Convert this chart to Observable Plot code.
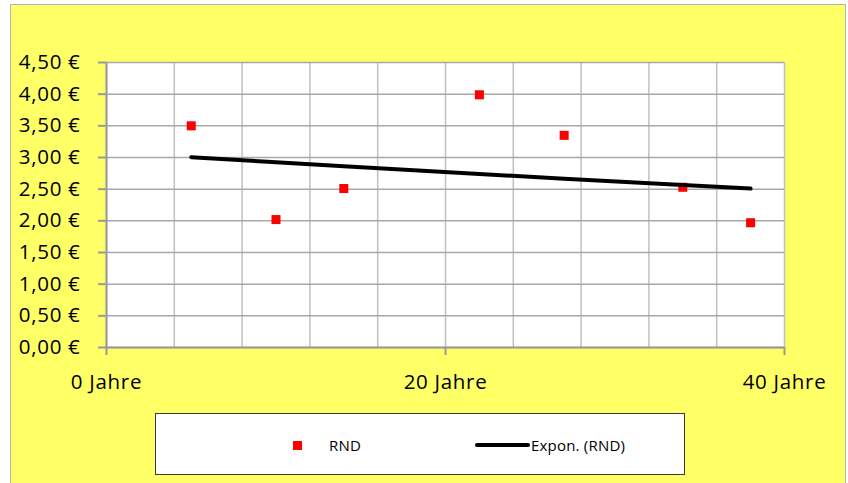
<!DOCTYPE html>
<html>
<head>
<meta charset="utf-8">
<script src="https://cdn.jsdelivr.net/npm/d3@7"></script>
<script src="https://cdn.jsdelivr.net/npm/@observablehq/plot@0.6"></script>
<style>
  html, body { margin: 0; padding: 0; background: #ffffff; }
  #wrap { position: relative; width: 848px; height: 483px; overflow: hidden; font-family: "Open Sans", sans-serif; }
  #bg { position: absolute; left: 10px; top: 4px; width: 834px; height: 490px; background: #ffff66;
        border: 1.5px solid #b4b4b4; }
  #chart { position: absolute; left: 0; top: 0; }
  #chart svg text { font-size: 20.5px; letter-spacing: 0.7px; }
  #legend { position: absolute; left: 155px; top: 413px; width: 530px; height: 62px; background: #ffffff;
            border: 1px solid #3a3a3a; box-sizing: border-box; color: #000; }
  .sq { position: absolute; left: 293px; top: 441px; width: 9px; height: 9px; background: #ff0000; }
  .ln { position: absolute; left: 475px; top: 443px; width: 55px; height: 4px; background: #000; border-radius: 2px; }
  .lt { position: absolute; font-family: "Open Sans", sans-serif; font-size: 15px; line-height: 18px; letter-spacing: 0.2px; }
</style>
</head>
<body>
<div id="wrap">
  <div id="bg"></div>
  <div id="chart"></div>
  <div id="legend"></div>
  <div class="sq"></div>
  <div class="lt" id="lab1" style="left:329px; top:436px;"></div>
  <div class="ln"></div>
  <div class="lt" id="lab2" style="left:531px; top:436px;"></div>
</div>
<script>
// ---- data ----
const years = [5, 10, 14, 22, 27, 34, 38];
const values = [3.5, 2.02, 2.51, 3.99, 3.35, 2.53, 1.97];
const seriesName = "RND";
const trendName = "Expon. (RND)";
const yTicks = [0, 0.5, 1, 1.5, 2, 2.5, 3, 3.5, 4, 4.5];
const xGridTicks = [0, 4, 8, 12, 16, 20, 24, 28, 32, 36, 40];
const xLabelTicks = [0, 20, 40];

document.getElementById("lab1").textContent = seriesName;
document.getElementById("lab2").textContent = trendName;

const points = years.map((x, i) => ({x, y: values[i]}));

// exponential trendline (least squares on ln y, as in the spreadsheet)
const n = years.length;
const mx = d3.mean(years);
const ml = d3.mean(values, v => Math.log(v));
let sxy = 0, sxx = 0;
for (let i = 0; i < n; i++) {
  sxy += (years[i] - mx) * (Math.log(values[i]) - ml);
  sxx += (years[i] - mx) ** 2;
}
const b = sxy / sxx;
const a = Math.exp(ml - b * mx);
const trend = years.map(x => ({x, y: a * Math.exp(b * x)}));

const fmt = d => d.toFixed(2).replace(".", ",") + " €";

const chart = Plot.plot({
  width: 848,
  height: 483,
  marginLeft: 106,
  marginRight: 64,
  marginTop: 62,
  marginBottom: 136,
  style: { background: "transparent", fontFamily: "Open Sans, sans-serif", color: "#000" },
  x: { domain: [0, 40] },
  y: { domain: [0, 4.5] },
  marks: [
    Plot.frame({ fill: "#ffffff", stroke: null }),
    Plot.ruleX(xGridTicks, { stroke: "#c0c0c0", strokeWidth: 1.5 }),
    Plot.ruleY(yTicks, { stroke: "#a8a8a8", strokeWidth: 1.5 }),
    Plot.ruleY([0], { stroke: "#999999", strokeWidth: 2 }),
    Plot.ruleX([0], { stroke: "#999999", strokeWidth: 2 }),
    Plot.axisY({
      ticks: yTicks, tickFormat: fmt, tickSize: 8, tickPadding: 18,
      stroke: "#999999", strokeWidth: 2, fill: "#000", label: null
    }),
    Plot.axisX({
      ticks: xLabelTicks, tickFormat: d => d + " Jahre", tickSize: 8, tickPadding: 19,
      stroke: "#999999", strokeWidth: 2, fill: "#000", label: null
    }),
    Plot.dot(points, { x: "x", y: "y", symbol: "square", r: 5.1, fill: "#ff0000", stroke: null }),
    Plot.line(trend, { x: "x", y: "y", stroke: "#000", strokeWidth: 4, strokeLinecap: "round" })
  ]
});
document.getElementById("chart").appendChild(chart);
</script>
</body>
</html>
